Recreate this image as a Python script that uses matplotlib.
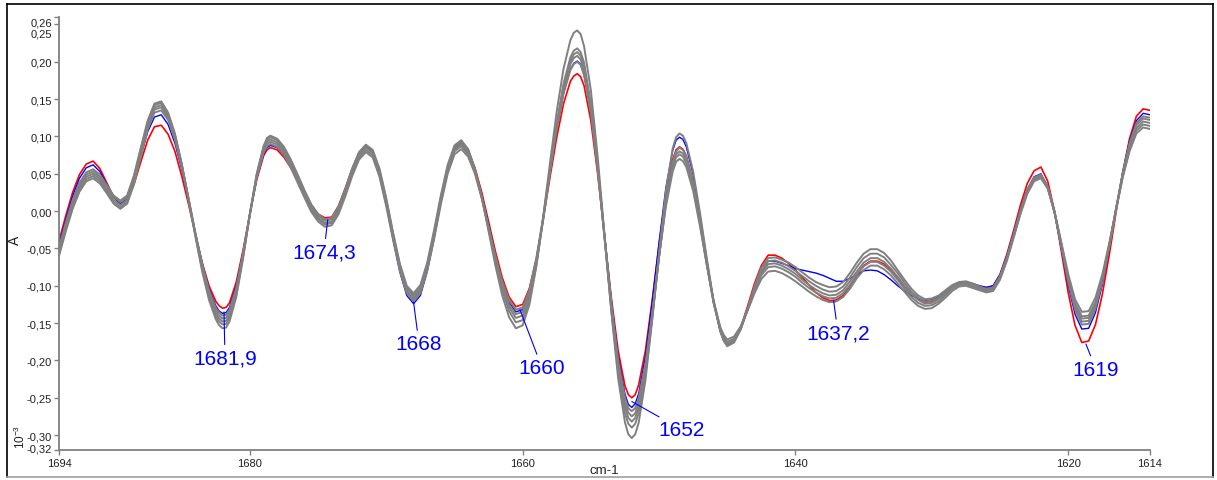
import numpy as np
import matplotlib
matplotlib.use("Agg")
import matplotlib.pyplot as plt
from matplotlib.lines import Line2D
import matplotlib.transforms as mtransforms

# ---------------- data ----------------
wavenumber = np.arange(1694.0, 1613.9, -0.5)   # cm-1, 161 points

red = [
    -0.040, -0.006, 0.025, 0.049, 0.063, 0.067, 0.057, 0.038, 0.019, 0.009,
    0.015, 0.036, 0.066, 0.095, 0.113, 0.115, 0.103, 0.080, 0.047, 0.009,
    -0.031, -0.069, -0.100, -0.121, -0.130, -0.123, -0.095, -0.052, -0.003, 0.042,
    0.074, 0.085, 0.082, 0.072, 0.058, 0.041, 0.024, 0.008, -0.004, -0.009,
    -0.008, 0.007, 0.031, 0.057, 0.078, 0.088, 0.081, 0.054, 0.013, -0.034,
    -0.077, -0.107, -0.118, -0.107, -0.076, -0.032, 0.016, 0.058, 0.085, 0.092,
    0.082, 0.058, 0.025, -0.014, -0.054, -0.089, -0.115, -0.128, -0.125, -0.103,
    -0.064, -0.012, 0.045, 0.099, 0.144, 0.174, 0.184, 0.168, 0.121, 0.050,
    -0.033, -0.116, -0.187, -0.234, -0.250, -0.233, -0.187, -0.119, -0.045, 0.023,
    0.069, 0.086, 0.074, 0.039, -0.012, -0.069, -0.122, -0.160, -0.178, -0.173,
    -0.155, -0.127, -0.097, -0.073, -0.059, -0.059, -0.063, -0.070, -0.079, -0.089,
    -0.099, -0.109, -0.116, -0.120, -0.119, -0.113, -0.100, -0.086, -0.073, -0.067,
    -0.067, -0.071, -0.079, -0.090, -0.101, -0.111, -0.118, -0.122, -0.121, -0.117,
    -0.110, -0.102, -0.098, -0.097, -0.099, -0.101, -0.103, -0.100, -0.085, -0.058,
    -0.026, 0.008, 0.037, 0.054, 0.059, 0.040, 0.000, -0.054, -0.109, -0.153,
    -0.176, -0.174, -0.152, -0.112, -0.060, -0.003, 0.052, 0.097, 0.127, 0.137,
    0.135,
]

blue = [
    -0.045, -0.011, 0.020, 0.044, 0.058, 0.062, 0.053, 0.036, 0.019, 0.010,
    0.016, 0.040, 0.074, 0.106, 0.126, 0.129, 0.116, 0.091, 0.056, 0.014,
    -0.030, -0.070, -0.104, -0.127, -0.137, -0.129, -0.100, -0.055, -0.004, 0.044,
    0.076, 0.088, 0.085, 0.075, 0.059, 0.041, 0.023, 0.006, -0.006, -0.012,
    -0.010, 0.005, 0.029, 0.056, 0.077, 0.087, 0.080, 0.053, 0.010, -0.038,
    -0.082, -0.113, -0.124, -0.113, -0.081, -0.037, 0.012, 0.055, 0.083, 0.090,
    0.079, 0.055, 0.021, -0.019, -0.060, -0.095, -0.122, -0.135, -0.132, -0.108,
    -0.066, -0.010, 0.051, 0.110, 0.158, 0.190, 0.201, 0.183, 0.133, 0.058,
    -0.031, -0.120, -0.195, -0.245, -0.263, -0.245, -0.195, -0.122, -0.042, 0.031,
    0.081, 0.099, 0.086, 0.049, -0.005, -0.065, -0.121, -0.161, -0.180, -0.175,
    -0.158, -0.132, -0.103, -0.080, -0.067, -0.067, -0.070, -0.073, -0.077, -0.079,
    -0.081, -0.083, -0.086, -0.090, -0.094, -0.094, -0.090, -0.085, -0.080, -0.079,
    -0.080, -0.085, -0.092, -0.100, -0.107, -0.113, -0.117, -0.120, -0.119, -0.115,
    -0.108, -0.100, -0.096, -0.095, -0.097, -0.100, -0.102, -0.100, -0.085, -0.060,
    -0.029, 0.002, 0.029, 0.046, 0.050, 0.033, -0.003, -0.050, -0.099, -0.138,
    -0.158, -0.157, -0.136, -0.099, -0.051, 0.002, 0.052, 0.094, 0.121, 0.131,
    0.129,
]

gray_1 = [
    -0.048, -0.015, 0.015, 0.038, 0.052, 0.056, 0.049, 0.035, 0.021, 0.014,
    0.021, 0.048, 0.085, 0.121, 0.144, 0.147, 0.132, 0.104, 0.063, 0.015,
    -0.034, -0.081, -0.119, -0.145, -0.157, -0.148, -0.115, -0.063, -0.004, 0.050,
    0.087, 0.101, 0.097, 0.086, 0.069, 0.049, 0.028, 0.009, -0.004, -0.011,
    -0.009, 0.006, 0.030, 0.057, 0.079, 0.089, 0.082, 0.057, 0.017, -0.029,
    -0.071, -0.100, -0.110, -0.099, -0.069, -0.026, 0.021, 0.062, 0.088, 0.095,
    0.083, 0.056, 0.018, -0.027, -0.073, -0.113, -0.142, -0.157, -0.153, -0.125,
    -0.074, -0.008, 0.064, 0.134, 0.191, 0.229, 0.242, 0.221, 0.162, 0.073,
    -0.031, -0.135, -0.224, -0.283, -0.304, -0.284, -0.227, -0.145, -0.055, 0.027,
    0.084, 0.104, 0.091, 0.053, -0.002, -0.063, -0.120, -0.162, -0.181, -0.176,
    -0.158, -0.130, -0.101, -0.076, -0.063, -0.062, -0.065, -0.069, -0.075, -0.082,
    -0.089, -0.095, -0.099, -0.102, -0.101, -0.095, -0.083, -0.069, -0.057, -0.051,
    -0.051, -0.056, -0.066, -0.079, -0.092, -0.104, -0.113, -0.118, -0.117, -0.113,
    -0.106, -0.099, -0.095, -0.094, -0.097, -0.101, -0.104, -0.102, -0.087, -0.062,
    -0.031, 0.001, 0.028, 0.045, 0.049, 0.033, -0.002, -0.048, -0.095, -0.132,
    -0.152, -0.151, -0.131, -0.095, -0.049, 0.002, 0.051, 0.091, 0.118, 0.127,
    0.125,
]

gray_2 = [
    -0.051, -0.018, 0.012, 0.035, 0.049, 0.053, 0.046, 0.033, 0.019, 0.012,
    0.019, 0.046, 0.083, 0.119, 0.142, 0.145, 0.130, 0.102, 0.063, 0.016,
    -0.032, -0.078, -0.115, -0.141, -0.152, -0.143, -0.111, -0.061, -0.003, 0.049,
    0.086, 0.099, 0.095, 0.084, 0.067, 0.047, 0.026, 0.007, -0.006, -0.013,
    -0.011, 0.004, 0.029, 0.056, 0.078, 0.088, 0.081, 0.055, 0.015, -0.031,
    -0.073, -0.102, -0.113, -0.102, -0.072, -0.029, 0.018, 0.059, 0.086, 0.093,
    0.082, 0.056, 0.019, -0.024, -0.068, -0.106, -0.134, -0.149, -0.146, -0.120,
    -0.073, -0.012, 0.054, 0.118, 0.171, 0.206, 0.218, 0.199, 0.144, 0.061,
    -0.036, -0.133, -0.216, -0.271, -0.290, -0.271, -0.220, -0.144, -0.061, 0.015,
    0.066, 0.085, 0.073, 0.038, -0.013, -0.070, -0.123, -0.161, -0.179, -0.174,
    -0.157, -0.131, -0.103, -0.080, -0.067, -0.066, -0.069, -0.074, -0.080, -0.087,
    -0.094, -0.100, -0.105, -0.108, -0.107, -0.101, -0.089, -0.075, -0.063, -0.057,
    -0.057, -0.062, -0.072, -0.083, -0.096, -0.108, -0.116, -0.121, -0.120, -0.116,
    -0.109, -0.101, -0.097, -0.096, -0.099, -0.102, -0.105, -0.103, -0.088, -0.063,
    -0.032, 0.000, 0.027, 0.044, 0.048, 0.032, -0.002, -0.046, -0.092, -0.129,
    -0.148, -0.147, -0.127, -0.093, -0.048, 0.002, 0.050, 0.089, 0.115, 0.124,
    0.122,
]

gray_3 = [
    -0.054, -0.021, 0.009, 0.032, 0.046, 0.050, 0.043, 0.029, 0.015, 0.008,
    0.015, 0.042, 0.079, 0.116, 0.139, 0.142, 0.128, 0.101, 0.062, 0.016,
    -0.031, -0.075, -0.112, -0.137, -0.148, -0.140, -0.108, -0.059, -0.004, 0.048,
    0.083, 0.096, 0.092, 0.081, 0.064, 0.044, 0.023, 0.004, -0.009, -0.016,
    -0.014, 0.001, 0.026, 0.053, 0.075, 0.085, 0.078, 0.052, 0.012, -0.034,
    -0.076, -0.105, -0.116, -0.105, -0.075, -0.032, 0.015, 0.056, 0.083, 0.090,
    0.079, 0.054, 0.019, -0.023, -0.065, -0.102, -0.129, -0.143, -0.140, -0.114,
    -0.069, -0.011, 0.054, 0.116, 0.168, 0.201, 0.213, 0.194, 0.141, 0.060,
    -0.035, -0.129, -0.210, -0.263, -0.282, -0.264, -0.214, -0.141, -0.061, 0.012,
    0.062, 0.080, 0.068, 0.034, -0.015, -0.071, -0.122, -0.160, -0.177, -0.173,
    -0.156, -0.132, -0.105, -0.083, -0.071, -0.070, -0.073, -0.078, -0.084, -0.092,
    -0.099, -0.105, -0.110, -0.113, -0.112, -0.106, -0.094, -0.081, -0.069, -0.063,
    -0.063, -0.068, -0.077, -0.088, -0.100, -0.111, -0.119, -0.124, -0.123, -0.118,
    -0.111, -0.103, -0.098, -0.097, -0.100, -0.103, -0.106, -0.104, -0.089, -0.064,
    -0.033, -0.001, 0.026, 0.043, 0.047, 0.032, -0.001, -0.045, -0.090, -0.125,
    -0.144, -0.143, -0.124, -0.090, -0.047, 0.002, 0.048, 0.086, 0.111, 0.120,
    0.118,
]

gray_4 = [
    -0.057, -0.024, 0.006, 0.029, 0.043, 0.047, 0.040, 0.026, 0.012, 0.005,
    0.012, 0.039, 0.076, 0.113, 0.136, 0.139, 0.125, 0.099, 0.061, 0.017,
    -0.030, -0.073, -0.109, -0.133, -0.144, -0.136, -0.105, -0.058, -0.004, 0.046,
    0.080, 0.093, 0.089, 0.078, 0.061, 0.041, 0.021, 0.002, -0.011, -0.018,
    -0.016, -0.001, 0.023, 0.050, 0.072, 0.082, 0.075, 0.049, 0.009, -0.036,
    -0.078, -0.107, -0.118, -0.107, -0.077, -0.034, 0.013, 0.054, 0.080, 0.087,
    0.076, 0.052, 0.018, -0.022, -0.063, -0.098, -0.125, -0.138, -0.135, -0.110,
    -0.067, -0.009, 0.054, 0.114, 0.164, 0.197, 0.208, 0.190, 0.138, 0.059,
    -0.034, -0.126, -0.205, -0.257, -0.275, -0.257, -0.209, -0.139, -0.061, 0.010,
    0.059, 0.076, 0.064, 0.031, -0.017, -0.071, -0.122, -0.158, -0.175, -0.171,
    -0.155, -0.132, -0.107, -0.086, -0.075, -0.074, -0.077, -0.082, -0.088, -0.096,
    -0.103, -0.109, -0.114, -0.117, -0.116, -0.110, -0.099, -0.085, -0.074, -0.068,
    -0.068, -0.073, -0.081, -0.092, -0.104, -0.115, -0.123, -0.127, -0.126, -0.121,
    -0.113, -0.104, -0.099, -0.098, -0.101, -0.104, -0.107, -0.105, -0.090, -0.065,
    -0.034, -0.002, 0.025, 0.042, 0.046, 0.031, -0.001, -0.044, -0.088, -0.123,
    -0.141, -0.140, -0.122, -0.089, -0.046, 0.001, 0.046, 0.083, 0.108, 0.116,
    0.114,
]

gray_5 = [
    -0.060, -0.027, 0.003, 0.026, 0.040, 0.044, 0.037, 0.024, 0.010, 0.003,
    0.010, 0.036, 0.073, 0.109, 0.132, 0.135, 0.122, 0.096, 0.059, 0.016,
    -0.029, -0.071, -0.106, -0.130, -0.140, -0.132, -0.103, -0.056, -0.004, 0.045,
    0.078, 0.090, 0.086, 0.075, 0.058, 0.038, 0.018, -0.001, -0.014, -0.021,
    -0.019, -0.004, 0.020, 0.047, 0.069, 0.079, 0.072, 0.046, 0.006, -0.039,
    -0.081, -0.110, -0.121, -0.110, -0.080, -0.038, 0.009, 0.050, 0.076, 0.083,
    0.073, 0.050, 0.017, -0.021, -0.060, -0.094, -0.119, -0.132, -0.129, -0.105,
    -0.063, -0.009, 0.052, 0.110, 0.158, 0.189, 0.200, 0.182, 0.132, 0.055,
    -0.034, -0.123, -0.200, -0.250, -0.268, -0.251, -0.204, -0.136, -0.061, 0.006,
    0.053, 0.070, 0.059, 0.027, -0.020, -0.072, -0.120, -0.156, -0.172, -0.168,
    -0.154, -0.133, -0.110, -0.091, -0.081, -0.080, -0.083, -0.088, -0.094, -0.101,
    -0.108, -0.114, -0.119, -0.122, -0.121, -0.115, -0.104, -0.090, -0.079, -0.073,
    -0.073, -0.078, -0.086, -0.097, -0.108, -0.119, -0.127, -0.131, -0.130, -0.124,
    -0.116, -0.107, -0.101, -0.100, -0.103, -0.106, -0.109, -0.107, -0.092, -0.067,
    -0.036, -0.004, 0.023, 0.040, 0.044, 0.030, -0.001, -0.042, -0.084, -0.118,
    -0.135, -0.134, -0.116, -0.085, -0.044, 0.001, 0.045, 0.080, 0.104, 0.112,
    0.110,
]

# extra readings around the sharpest extrema (quarter-step positions)
extra_wavenumber = [1682.25, 1681.75, 1678.75, 1656.25, 1655.75,
                    1652.25, 1651.75, 1648.75, 1648.25, 1645.25]
red_extra    = [-0.127, -0.129, 0.082, 0.181, 0.180, -0.246, -0.246, 0.082, 0.083, -0.172]
blue_extra   = [-0.134, -0.136, 0.085, 0.198, 0.197, -0.259, -0.258, 0.095, 0.096, -0.174]
gray_1_extra = [-0.153, -0.156, 0.098, 0.239, 0.237, -0.299, -0.299, 0.099, 0.101, -0.174]
gray_2_extra = [-0.148, -0.151, 0.096, 0.215, 0.213, -0.285, -0.285, 0.080, 0.082, -0.173]
gray_3_extra = [-0.144, -0.147, 0.093, 0.210, 0.208, -0.277, -0.277, 0.076, 0.077, -0.171]
gray_4_extra = [-0.140, -0.143, 0.090, 0.205, 0.203, -0.270, -0.271, 0.072, 0.073, -0.169]
gray_5_extra = [-0.136, -0.139, 0.087, 0.197, 0.196, -0.264, -0.264, 0.066, 0.067, -0.166]

peak_labels = ["1681,9", "1674,3", "1668", "1660", "1652", "1637,2", "1619"]
peak_x = [1681.9, 1674.3, 1668.0, 1660.2, 1652.0, 1637.2, 1618.7]
peak_y = [-0.135, -0.012, -0.122, -0.132, -0.255, -0.120, -0.178]
label_x = [1681.83, 1674.57, 1667.6, 1658.58, 1648.32, 1636.88, 1617.96]
label_y = [-0.197, -0.055, -0.178, -0.210, -0.293, -0.163, -0.212]

yticks = [-0.32, -0.30, -0.25, -0.20, -0.15, -0.10, -0.05, 0.00,
          0.05, 0.10, 0.15, 0.20, 0.25, 0.26]
xticks = [1694, 1680, 1660, 1640, 1620, 1614]


def merged(base, extra):
    x = np.concatenate([wavenumber, np.asarray(extra_wavenumber)])
    y = np.concatenate([np.asarray(base), np.asarray(extra)])
    order = np.argsort(-x, kind='stable')
    return x[order], y[order]


# ---------------- drawing ----------------
plt.rcParams['font.family'] = ['Liberation Sans', 'DejaVu Sans']

W, H = 1217, 481
fig = plt.figure(figsize=(W / 100, H / 100), dpi=100)
fig.patch.set_facecolor('white')

left, right, bottom, top = 59, 1150, 451, 18
ax = fig.add_axes([left / W, 1 - bottom / H, (right - left) / W, (bottom - top) / H])

ax.plot(*merged(red, red_extra), color='#ff0000', lw=1.2, zorder=2)
ax.plot(*merged(blue, blue_extra), color='#0000ff', lw=1.0, zorder=2.1)
for g, ge in [(gray_1, gray_1_extra), (gray_2, gray_2_extra), (gray_3, gray_3_extra),
              (gray_4, gray_4_extra), (gray_5, gray_5_extra)]:
    ax.plot(*merged(g, ge), color='#808080', lw=1.4, zorder=3,
            solid_joinstyle='round')

ax.set_xlim(1694, 1614)
ax.set_ylim(-0.32, 0.26)

ax.set_xticks(xticks)
ax.set_xticklabels([str(t) for t in xticks])
ax.set_yticks(yticks)
ax.set_yticklabels([f"{v:.2f}".replace('.', ',') for v in yticks])

for side in ('top', 'right'):
    ax.spines[side].set_visible(False)
for side in ('left', 'bottom'):
    ax.spines[side].set_color('#808080')
    ax.spines[side].set_linewidth(1.3)

ax.tick_params(axis='both', direction='out', length=3.5, width=1.0,
               color='#808080', labelsize=8, labelcolor='#202020')
ax.tick_params(axis='y', pad=1.5)
ax.tick_params(axis='x', pad=2)

# nudge crowded y tick labels (pixel offsets, like the reference)
nudges = {0.26: -4, 0.25: -8, -0.32: 2}
for val, lab in zip(yticks, ax.get_yticklabels()):
    if val in nudges:
        dy = nudges[val] * 0.72 / 72.0
        lab.set_transform(lab.get_transform() +
                          mtransforms.ScaledTranslation(0, dy, fig.dpi_scale_trans))

# peak annotations
for txt, px, py, tx, ty in zip(peak_labels, peak_x, peak_y, label_x, label_y):
    ax.annotate(txt, xy=(px, py), xytext=(tx, ty), textcoords='data',
                color='#0000ff', fontsize=15, ha='center', va='center',
                zorder=5,
                arrowprops=dict(arrowstyle='-', color='#0000ff', lw=0.8,
                                shrinkA=1, shrinkB=0))

# axis captions
fig.text(15 / W, 1 - 240 / H, 'A', rotation=90, ha='center', va='center',
         fontsize=10, color='#202020')
fig.text(20 / W, 1 - 437 / H, r'$\mathregular{10^{-3}}$', rotation=90,
         ha='center', va='center', fontsize=8.5, color='#202020')
fig.text(604 / W, 1 - 471 / H, 'cm-1', ha='center', va='center',
         fontsize=9.5, color='#202020')

# outer frame
fx0, fx1 = 7 / W, 1213 / W
fy0, fy1 = 1 - 478 / H, 1 - 5 / H
for xs, ys, c in [((fx0, fx0), (fy0, fy1), 'black'),
                  ((fx0, fx1), (fy1, fy1), 'black'),
                  ((fx1, fx1), (fy0, fy1), 'black'),
                  ((fx0, fx1), (fy0, fy0), '#a0a0a0')]:
    fig.add_artist(Line2D(xs, ys, transform=fig.transFigure, color=c, lw=1.2))

fig.savefig('out.png', dpi=100, facecolor='white')
